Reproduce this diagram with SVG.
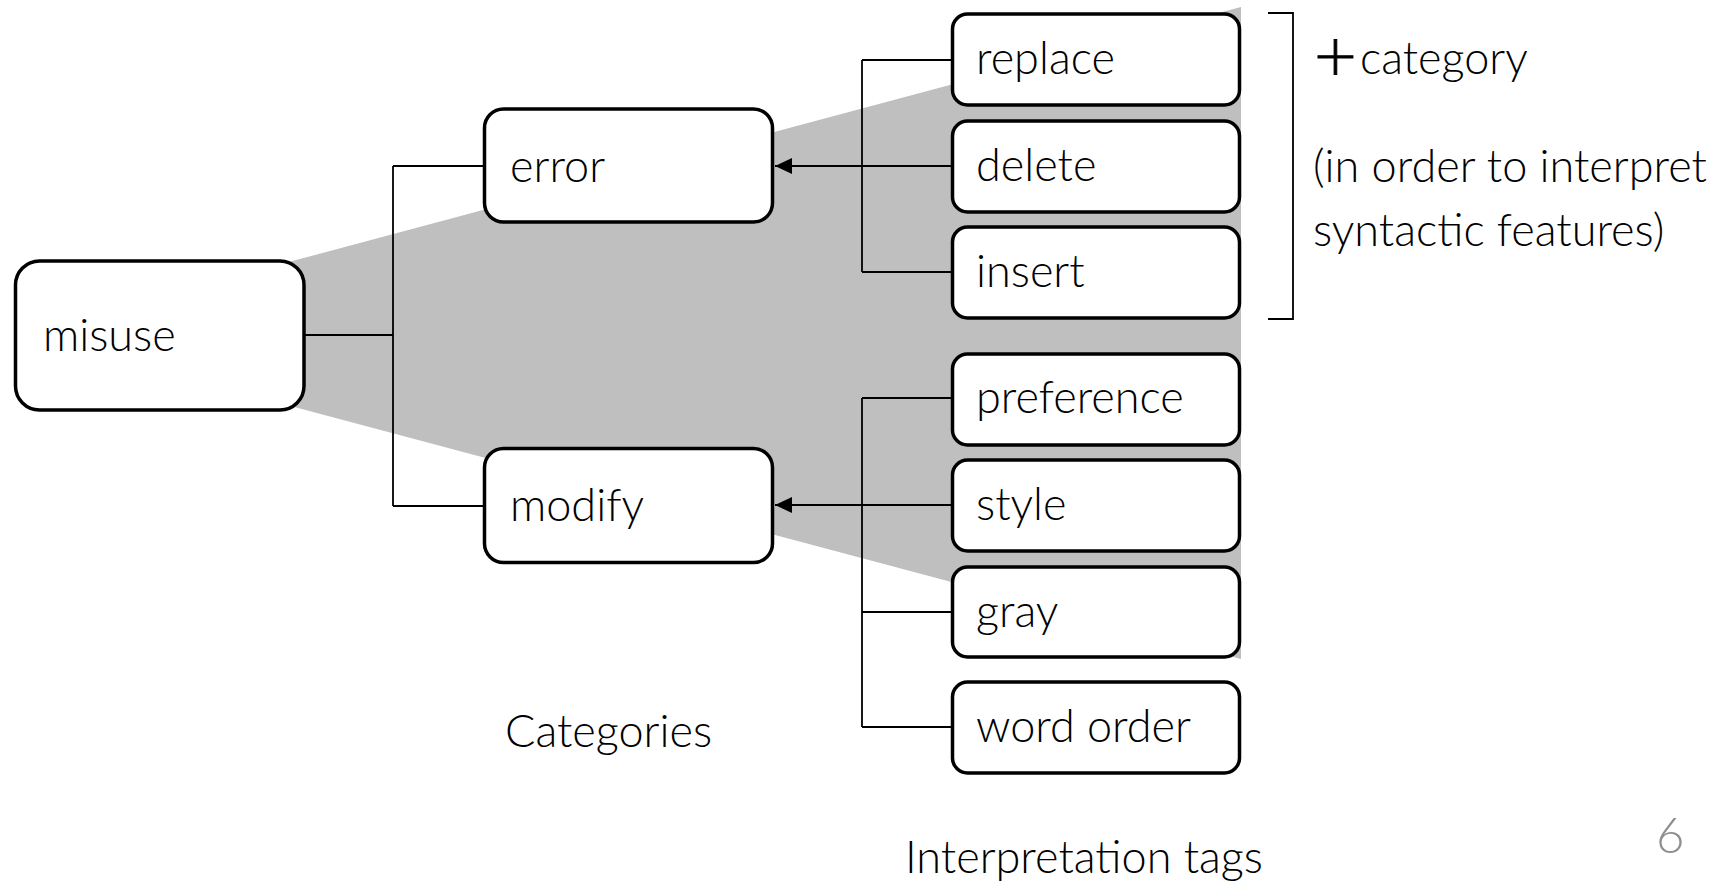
<svg xmlns="http://www.w3.org/2000/svg" width="1726" height="888" viewBox="0 0 1726 888">
<style>
.box{fill:#fff;stroke:#000;stroke-width:3.5}
.t{font-family:Lato,"Open Sans","Liberation Sans",sans-serif;font-weight:300;font-size:45px;fill:#000}
.c{fill:none;stroke:#000;stroke-width:1.8}
</style>
<defs>
<marker id="arr" markerUnits="userSpaceOnUse" markerWidth="18" markerHeight="16" refX="17" refY="8" orient="auto" viewBox="0 0 18 16">
<path d="M0,0 L17,8 L0,16 Z" fill="#000"/>
</marker>
</defs>
<rect width="1726" height="888" fill="#fff"/>
<polygon id="fan" points="20,334 1241,7 1241,659" fill="#bfbfbf"/>
<g id="connectors">
<path class="c" d="M305,335 H393" stroke-width="2.2"/>
<path class="c" d="M393,166 V506 M393,166 H483 M393,506 H483"/>
<path class="c" d="M862,60 V272 M862,60 H951 M862,272 H951 M951,166 H862"/>
<path class="c" d="M862,166 H775" marker-end="url(#arr)"/>
<path class="c" d="M862,398 V727 M862,398 H951 M862,612 H951 M862,727 H951 M951,505 H862"/>
<path class="c" d="M862,505 H775" stroke-width="2.5" marker-end="url(#arr)"/>
<path class="c" d="M1268,13 H1293 V319 H1268" stroke-width="2.2"/>
</g>
<g id="misuse"><rect class="box" x="15.5" y="261" width="288.5" height="149" rx="24"/><text class="t" x="43" y="351">misuse</text></g>
<g id="error"><rect class="box" x="484.5" y="109" width="288" height="113" rx="19"/><text class="t" x="510" y="182">error</text></g>
<g id="modify"><rect class="box" x="484.5" y="448.5" width="288" height="114" rx="19"/><text class="t" x="510" y="521">modify</text></g>
<g id="replace"><rect class="box" x="952.5" y="14" width="287" height="91" rx="15"/><text class="t" x="976" y="74">replace</text></g>
<g id="delete"><rect class="box" x="952.5" y="121" width="287" height="91" rx="15"/><text class="t" x="976" y="181">delete</text></g>
<g id="insert"><rect class="box" x="952.5" y="227" width="287" height="91" rx="15"/><text class="t" x="976" y="287">insert</text></g>
<g id="preference"><rect class="box" x="952.5" y="354" width="287" height="91" rx="15"/><text class="t" x="976" y="413">preference</text></g>
<g id="style"><rect class="box" x="952.5" y="460" width="287" height="91" rx="15"/><text class="t" x="976" y="520">style</text></g>
<g id="gray"><rect class="box" x="952.5" y="567" width="287" height="90" rx="15"/><text class="t" x="976" y="627">gray</text></g>
<g id="wordorder"><rect class="box" x="952.5" y="682" width="287" height="91" rx="15"/><text class="t" x="976" y="742">word order</text></g>
<g id="labels">
<text class="t" x="905" y="873">Interpretation tags</text>
<text class="t" x="505" y="747">Categories</text>
<text x="1312" y="74" style="font-family:'DejaVu Sans',sans-serif;font-weight:200;font-size:56px;fill:#000;stroke:#000;stroke-width:0.9">+</text>
<text class="t" x="1360" y="74">category</text>
<text class="t" x="1313" y="182">(in order to interpret</text>
<text class="t" x="1313" y="246">syntactic features)</text>
<text class="t" x="1656" y="853" style="fill:#8f8f8f;font-size:49px">6</text>
</g>
</svg>
